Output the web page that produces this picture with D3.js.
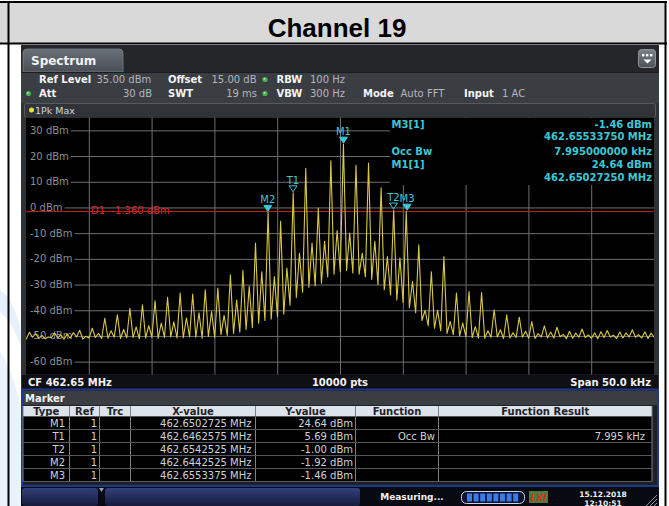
<!DOCTYPE html>
<html>
<head>
<meta charset="utf-8">
<script src="https://cdn.jsdelivr.net/npm/d3@7"></script>
<style>
  body { margin: 0; background: #fff; }
  svg { display: block; font-family: "DejaVu Sans", Verdana, sans-serif; }
</style>
</head>
<body>
<div id="chart"></div>
<script>
// ---- data ----
const centerMHz = 462.65;
const spanKHz = 50;
const refLevel = 35;            // top of screen, dBm
const dbPerDiv = 10;
const yTickValues = [30, 20, 10, 0, -10, -20, -30, -40, -50, -60];
const xDivisions = [-20, -15, -10, -5, 0, 5, 10, 15, 20];   // kHz from CF
const displayLine = -1.36;

// FM sidebands every 1 kHz around the carrier (carrier sits at M1)
const carrierKHz = 0.2725;
const sidebandStart = -26;
// peak level of each sideband n = -26 .. 24
const peakDbm = [
  -49.5, -48.6, -49.8, -48.9, -49.3, -47.8, -47.0, -43.1, -41.8, -39.2,
  -37.9, -36.3, -35.0, -33.3, -33.7, -32.0, -31.4, -26.2, -24.5, -13.9,
  -1.92, -5.4, 5.69, 15.2, -0.2, 18.2, 24.64, 16.4, 17.3, 7.6,
  -1.0, -1.46, -14.5, -25.0, -19.1, -33.3, -32.7, -33.1, -39.8, -41.8,
  -42.7, -44.4, -46.1, -46.6, -48.2, -47.3, -48.8, -47.9, -48.5, -47.6, -48.4
];
// smaller peak half way between sidebands (n + 0.5)
const halfDbm = [
  -50.2, -49.1, -50.4, -49.6, -48.7, -50.1, -49.0, -48.0, -47.5, -46.5,
  -46.0, -45.0, -44.5, -43.0, -41.0, -40.5, -42.0, -36.0, -30.7, -25.0,
  -26.9, -23.6, -17.8, -13.9, -13.2, -9.0, -10.0, -17.8, -13.2, -19.1,
  -19.7, -28.8, -40.0, -40.0, -44.4, -45.0, -46.4, -48.0, -47.6, -48.8,
  -48.2, -49.1, -48.5, -49.4, -48.9, -49.6, -48.4, -49.7, -48.8, -49.5, -48.9
];
// troughs at n + 0.25
const troughA = [
  -50.8, -50.5, -51.1, -50.7, -50.9, -51.2, -50.6, -50.9, -51.0, -50.6,
  -50.8, -50.9, -50.4, -50.7, -50.5, -50.2, -49.5, -49.0, -47.5, -45.0,
  -43.5, -41.5, -35.0, -31.0, -29.5, -26.0, -24.5, -26.0, -28.0, -32.0,
  -36.0, -39.0, -44.0, -47.0, -49.0, -50.0, -50.6, -50.9, -50.4, -50.8,
  -50.5, -51.0, -50.7, -50.3, -50.9, -50.6, -51.1, -50.4, -50.8, -50.5, -51.0
];
// troughs at n + 0.75
const troughB = [
  -51.2, -51.0, -50.6, -51.3, -50.4, -50.8, -51.0, -50.5, -50.7, -51.1,
  -50.5, -50.6, -50.8, -50.3, -50.9, -50.6, -49.8, -48.5, -46.8, -44.0,
  -42.5, -38.0, -33.0, -30.5, -27.0, -25.0, -25.5, -27.0, -30.0, -34.0,
  -37.0, -41.0, -46.0, -48.0, -49.5, -50.3, -50.8, -50.5, -51.0, -50.6,
  -50.9, -50.4, -50.8, -51.1, -50.5, -50.9, -50.6, -51.0, -50.4, -50.8, -50.6
];

// marker table
const markerTypes = ["M1", "T1", "T2", "M2", "M3"];
const markerFreqs = [462.6502725, 462.6462575, 462.6542525, 462.6442525, 462.6553375];
const markerLevels = [24.64, 5.69, -1.00, -1.92, -1.46];
const markerFunction = ["", "Occ Bw", "", "", ""];
const markerResult = ["", "7.995 kHz", "", "", ""];
const occBwKHz = 7.995;

// ---- page ----
const W = 669, H = 506;
const svg = d3.select("#chart").append("svg")
  .attr("width", W).attr("height", H);
const defs = svg.append("defs");

function vGrad(id, stops) {
  let g = defs.append("linearGradient").attr("id", id)
    .attr("x1", 0).attr("y1", 0).attr("x2", 0).attr("y2", 1);
  stops.forEach((c, i) => g.append("stop")
    .attr("offset", i / (stops.length - 1)).attr("stop-color", c));
}
vGrad("tabGrad", ["#6a7077", "#4a4f56"]);
vGrad("btnGrad", ["#33407a", "#141b3c"]);
vGrad("iconGrad", ["#7a8088", "#4c5158"]);

// faint watermark in the left margin
svg.append("path")
  .attr("d", "M0,290 Q15,300 22,335 L22,350 Q12,320 0,312 Z")
  .attr("fill", "#e6f1fb");
svg.append("path")
  .attr("d", "M0,352 Q18,380 22,420 L22,506 L0,506 Z")
  .attr("fill", "#eaf3fc");

// header row
svg.append("rect").attr("x", 0).attr("y", 2).attr("width", 666).attr("height", 42)
  .attr("fill", "#d9d9d9");
svg.append("text").attr("x", 337).attr("y", 37).attr("text-anchor", "middle")
  .style("font-family", "'Liberation Sans', Arial, sans-serif")
  .style("font-weight", "bold").style("font-size", "26px")
  .attr("fill", "#000").text("Channel 19");

// ---- instrument screen ----
const scr = svg.append("g");
scr.append("rect").attr("x", 21).attr("y", 45).attr("width", 638).attr("height", 461)
  .attr("fill", "#2e3136");
scr.append("rect").attr("x", 21).attr("y", 45).attr("width", 638).attr("height", 27)
  .attr("fill", "#24262a");
scr.append("path").attr("d", "M23,72 V53 Q23,49 27,49 H119 Q123,49 123,53 V72 Z")
  .attr("fill", "url(#tabGrad)").attr("stroke", "#7c8288").attr("stroke-width", 0.8);
scr.append("text").attr("x", 31).attr("y", 65).attr("fill", "#f2f2f2")
  .style("font-size", "12px").style("font-weight", "bold").text("Spectrum");

// top-right menu icon
scr.append("rect").attr("x", 638.5).attr("y", 49.5).attr("width", 17).attr("height", 18).attr("rx", 3)
  .attr("fill", "url(#iconGrad)").attr("stroke", "#90959c");
[643, 647, 651].forEach(cx => scr.append("rect").attr("x", cx - 1).attr("y", 54)
  .attr("width", 2.4).attr("height", 2.4).attr("fill", "#fff"));
scr.append("path").attr("d", "M643.5,59.5 L651.5,59.5 L647.5,63.5 Z").attr("fill", "#fff");

// setting rows
scr.append("rect").attr("x", 21).attr("y", 72).attr("width", 638).attr("height", 31)
  .attr("fill", "#3a3d42");
scr.append("line").attr("x1", 21).attr("x2", 659).attr("y1", 72.5).attr("y2", 72.5)
  .attr("stroke", "#1b1c1f");

const settings = [
  { x: 39, y: 83, t: "Ref Level", b: true }, { x: 96.5, y: 83, t: "35.00 dBm" },
  { x: 168, y: 83, t: "Offset", b: true }, { x: 211.5, y: 83, t: "15.00 dB" },
  { x: 276.5, y: 83, t: "RBW", b: true }, { x: 310, y: 83, t: "100 Hz" },
  { x: 39, y: 97, t: "Att", b: true }, { x: 152, y: 97, t: "30 dB", a: "end" },
  { x: 168, y: 97, t: "SWT", b: true }, { x: 257, y: 97, t: "19 ms", a: "end" },
  { x: 276.5, y: 97, t: "VBW", b: true }, { x: 310, y: 97, t: "300 Hz" },
  { x: 363, y: 97, t: "Mode", b: true }, { x: 400.5, y: 97, t: "Auto FFT" },
  { x: 464, y: 97, t: "Input", b: true }, { x: 502, y: 97, t: "1 AC" }
];
scr.selectAll("text.set").data(settings).enter().append("text")
  .attr("class", "set")
  .attr("x", d => d.x).attr("y", d => d.y)
  .attr("text-anchor", d => d.a || "start")
  .attr("fill", d => d.b ? "#f4f4f4" : "#b3b7bc")
  .style("font-size", "10px")
  .style("font-weight", d => d.b ? "bold" : "normal")
  .text(d => d.t);
[[265, 79.5], [28.5, 93.5], [265, 93.5]].forEach(p => {
  scr.append("circle").attr("cx", p[0]).attr("cy", p[1]).attr("r", 2.6).attr("fill", "#46b24e");
  scr.append("circle").attr("cx", p[0] - 0.6).attr("cy", p[1] - 0.7).attr("r", 0.9).attr("fill", "#b8f0b8");
});

// trace label bar
scr.append("rect").attr("x", 24.5).attr("y", 103.5).attr("width", 631).attr("height", 14).attr("rx", 2)
  .attr("fill", "#303338").attr("stroke", "#575b60");
scr.append("circle").attr("cx", 31.5).attr("cy", 110).attr("r", 2.5).attr("fill", "#f0dc3a");
scr.append("text").attr("x", 35).attr("y", 113.5).attr("fill", "#d4d6d8")
  .style("font-size", "9.5px").text("1Pk Max");

// ---- diagram ----
const plot = { left: 26, right: 654, top: 117.5, bottom: 374.5 };
const x = d3.scaleLinear().domain([-spanKHz / 2, spanKHz / 2]).range([plot.left, plot.right]);
const y = d3.scaleLinear().domain([refLevel - 10 * dbPerDiv, refLevel]).range([plot.bottom, plot.top]);
const gridColor = "#6c6f73";

scr.append("rect").attr("x", plot.left).attr("y", plot.top)
  .attr("width", plot.right - plot.left).attr("height", plot.bottom - plot.top)
  .attr("fill", "#000");

scr.append("g").attr("transform", `translate(0,${plot.bottom})`)
  .call(d3.axisBottom(x).tickValues(xDivisions).tickSize(-(plot.bottom - plot.top)).tickFormat(""))
  .call(g => g.select(".domain").remove())
  .selectAll("line").attr("stroke", gridColor);
scr.append("g").attr("transform", `translate(${plot.left},0)`)
  .call(d3.axisLeft(y).tickValues(yTickValues).tickSize(-(plot.right - plot.left)).tickFormat(""))
  .call(g => g.select(".domain").remove())
  .selectAll("line").attr("stroke", gridColor);

// level labels with a dark mask behind them
let yLab = scr.append("g").selectAll("g").data(yTickValues).enter().append("g");
yLab.append("rect").attr("x", plot.left).attr("y", d => y(d) - 5)
  .attr("height", 10).attr("fill", "#000");
yLab.append("text").attr("x", 30).attr("y", d => y(d) + 3.5)
  .attr("fill", "#8b8e92").style("font-size", "10px")
  .text(d => `${d} dBm`);
yLab.each(function () {
  let t = d3.select(this).select("text").node();
  d3.select(this).select("rect").attr("width", t.getComputedTextLength() + 6);
});

// display line D1
scr.append("line").attr("x1", plot.left).attr("x2", plot.right)
  .attr("y1", Math.round(y(displayLine)) + 0.5).attr("y2", Math.round(y(displayLine)) + 0.5)
  .attr("stroke", "#c41a1a").attr("stroke-width", 1.2);
scr.append("text").attr("x", 91).attr("y", y(displayLine) + 3.5)
  .attr("fill", "#d8262a").style("font-size", "10px").style("white-space", "pre")
  .text(`D1  ${displayLine.toFixed(3)} dBm`);

// spectrum trace
let trace = [];
peakDbm.forEach((v, i) => {
  let f = carrierKHz + sidebandStart + i;
  trace.push([f, v], [f + 0.25, troughA[i]], [f + 0.5, halfDbm[i]], [f + 0.75, troughB[i]]);
});
defs.append("clipPath").attr("id", "plotClip").append("rect")
  .attr("x", plot.left).attr("y", plot.top)
  .attr("width", plot.right - plot.left).attr("height", plot.bottom - plot.top);
scr.append("path").datum(trace)
  .attr("clip-path", "url(#plotClip)")
  .attr("fill", "none").attr("stroke", "#d9c847").attr("stroke-width", 1.1)
  .attr("stroke-linejoin", "round")
  .attr("d", d3.line().x(d => x(d[0])).y(d => y(d[1])));

// markers on the trace
const cyan = "#3cc8d6";
let mk = scr.append("g").selectAll("g").data(markerTypes).enter().append("g")
  .attr("transform", (d, i) =>
    `translate(${x((markerFreqs[i] - centerMHz) * 1000)},${y(markerLevels[i])})`);
mk.append("path").attr("d", "M-4,-7 L4,-7 L0,-1 Z")
  .attr("fill", d => d[0] === "M" ? cyan : "none")
  .attr("stroke", cyan).attr("stroke-width", 1);
mk.append("text").attr("y", -9).attr("text-anchor", "middle")
  .attr("fill", cyan).style("font-size", "10px").text(d => d);

// marker readout box
scr.append("rect").attr("x", 390).attr("y", plot.top + 0.5).attr("width", 264).attr("height", 67)
  .attr("fill", "#000");
const i1 = markerTypes.indexOf("M1"), i3 = markerTypes.indexOf("M3");
const readout = [
  { y: 127.5, l: "M3[1]", r: `${markerLevels[i3].toFixed(2)} dBm` },
  { y: 139.5, l: "", r: `${markerFreqs[i3].toFixed(8)} MHz` },
  { y: 155, l: "Occ Bw", r: `${occBwKHz.toFixed(9)} kHz` },
  { y: 167.5, l: "M1[1]", r: `${markerLevels[i1].toFixed(2)} dBm` },
  { y: 181, l: "", r: `${markerFreqs[i1].toFixed(8)} MHz` }
];
let ro = scr.append("g").style("font-size", "10px").style("font-weight", "bold").attr("fill", cyan);
readout.forEach(r => {
  ro.append("text").attr("x", 391.5).attr("y", r.y).text(r.l);
  ro.append("text").attr("x", 652).attr("y", r.y).attr("text-anchor", "end").text(r.r);
});

// bottom info bar
scr.append("rect").attr("x", 22).attr("y", 375).attr("width", 636).attr("height", 14)
  .attr("fill", "#0e0f12");
let foot = scr.append("g").attr("fill", "#f2f2f2").style("font-size", "10px").style("font-weight", "bold");
foot.append("text").attr("x", 28).attr("y", 385.5).text(`CF ${centerMHz.toFixed(2)} MHz`);
foot.append("text").attr("x", 340).attr("y", 385.5).attr("text-anchor", "middle").text("10000 pts");
foot.append("text").attr("x", 651).attr("y", 385.5).attr("text-anchor", "end").text(`Span ${spanKHz.toFixed(1)} kHz`);

// ---- marker table ----
scr.append("rect").attr("x", 22).attr("y", 389.5).attr("width", 636).attr("height", 96.5)
  .attr("fill", "#1d2026").attr("stroke", "#22378e").attr("stroke-width", 2);
scr.append("rect").attr("x", 23).attr("y", 391).attr("width", 634).attr("height", 14)
  .attr("fill", "#3a3d42");
scr.append("text").attr("x", 25).attr("y", 402).attr("fill", "#f2f2f2")
  .style("font-size", "10px").style("font-weight", "bold").text("Marker");

const colEdges = [23, 69.5, 99.5, 130.5, 255.5, 355.5, 438.5, 652];
const colHeads = ["Type", "Ref", "Trc", "X-value", "Y-value", "Function", "Function Result"];
const rowTop = 416.5, rowH = 13;
scr.append("rect").attr("x", 23).attr("y", 406).attr("width", 629).attr("height", 10.5)
  .attr("fill", "#dde3ea");
scr.append("rect").attr("x", 23).attr("y", rowTop).attr("width", 629).attr("height", rowH * 5)
  .attr("fill", "#000");
colHeads.forEach((h, i) => {
  scr.append("text").attr("x", (colEdges[i] + colEdges[i + 1]) / 2).attr("y", 415)
    .attr("text-anchor", "middle").attr("fill", "#1e2228")
    .style("font-size", "10px").style("font-weight", "bold").text(h);
});
colEdges.forEach(cx => scr.append("line").attr("x1", cx).attr("x2", cx)
  .attr("y1", 406).attr("y2", rowTop + rowH * 5).attr("stroke", "#7d8186"));
d3.range(6).forEach(r => scr.append("line").attr("x1", 23).attr("x2", 652)
  .attr("y1", rowTop + r * rowH).attr("y2", rowTop + r * rowH).attr("stroke", "#55585d"));

let rows = scr.append("g").selectAll("g").data(markerTypes).enter().append("g")
  .attr("transform", (d, i) => `translate(0,${rowTop + i * rowH + 10})`)
  .attr("fill", "#cfd2d6").style("font-size", "10px");
rows.append("text").attr("x", 65).attr("text-anchor", "end").text(d => d);
rows.append("text").attr("x", 97).attr("text-anchor", "end").text("1");
rows.append("text").attr("x", 251.5).attr("text-anchor", "end")
  .text((d, i) => `${markerFreqs[i].toFixed(7)} MHz`);
rows.append("text").attr("x", 353).attr("text-anchor", "end")
  .text((d, i) => `${markerLevels[i].toFixed(2)} dBm`);
rows.append("text").attr("x", 435).attr("text-anchor", "end").text((d, i) => markerFunction[i]);
rows.append("text").attr("x", 645).attr("text-anchor", "end").text((d, i) => markerResult[i]);

// ---- status bar ----
scr.append("rect").attr("x", 21).attr("y", 487).attr("width", 638).attr("height", 19)
  .attr("fill", "#080a12");
[[22, 98], [105, 360]].forEach(b => scr.append("rect").attr("x", b[0]).attr("y", 488)
  .attr("width", b[1] - b[0]).attr("height", 18).attr("rx", 3).attr("fill", "url(#btnGrad)"));
scr.append("path").attr("d", "M99,488 L104,488 L101.5,492 Z").attr("fill", "#9aa0b0");
scr.append("text").attr("x", 412).attr("y", 500).attr("text-anchor", "middle")
  .attr("fill", "#f0f0f0").style("font-size", "9px").style("font-weight", "bold")
  .text("Measuring...");
scr.append("rect").attr("x", 461.5).attr("y", 491.5).attr("width", 63).attr("height", 12).attr("rx", 5)
  .attr("fill", "#0c1430").attr("stroke", "#c9d2ea");
d3.range(8).forEach(k => scr.append("rect").attr("x", 467 + k * 6.6).attr("y", 493.5)
  .attr("width", 5).attr("height", 8).attr("fill", "#3d7ae8"));
scr.append("rect").attr("x", 529).attr("y", 491).attr("width", 19).attr("height", 12)
  .attr("fill", "#4f7a38");
scr.append("text").attr("x", 538.5).attr("y", 501).attr("text-anchor", "middle")
  .attr("fill", "#d8302a").style("font-size", "9px").style("font-weight", "bold")
  .style("font-style", "italic").text("LXI");
scr.append("text").attr("x", 603).attr("y", 497).attr("text-anchor", "middle")
  .attr("fill", "#f0f0f0").style("font-size", "7.5px").style("font-weight", "bold").text("15.12.2018");
scr.append("text").attr("x", 603).attr("y", 505.5).attr("text-anchor", "middle")
  .attr("fill", "#f0f0f0").style("font-size", "7.5px").style("font-weight", "bold").text("12:10:51");
[0, 4, 8].forEach(o => scr.append("line").attr("x1", 646 + o).attr("y1", 506)
  .attr("x2", 657).attr("y2", 495 + o).attr("stroke", "#8a90a0"));

// ---- frame lines of the surrounding table ----
const frame = svg.append("g").attr("stroke", "#000").attr("stroke-width", 2);
frame.append("line").attr("x1", 0).attr("x2", 667).attr("y1", 2).attr("y2", 2);
frame.append("line").attr("x1", 0).attr("x2", 667).attr("y1", 43.5).attr("y2", 43.5);
frame.append("line").attr("x1", 8.5).attr("x2", 8.5).attr("y1", 2).attr("y2", 506);
frame.append("line").attr("x1", 665.5).attr("x2", 665.5).attr("y1", 2).attr("y2", 506);
</script>
</body>
</html>
